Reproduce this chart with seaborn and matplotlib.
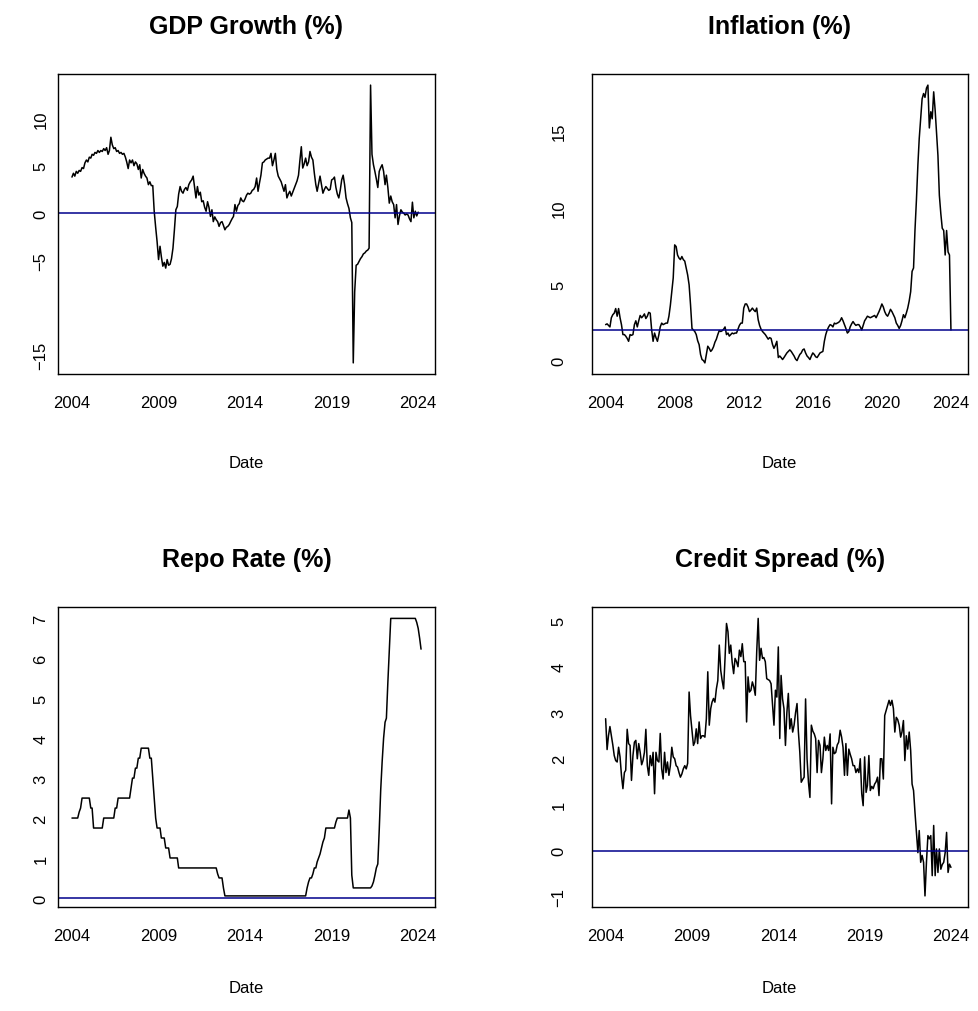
import matplotlib
matplotlib.use("Agg")
import matplotlib.pyplot as plt
import matplotlib.dates as mdates
import numpy as np
import pandas as pd
import seaborn as sns

# Monthly observations, January 2004 onwards
months = pd.date_range("2004-01-01", "2024-03-01", freq="MS")

gdp_growth = [
    3.8, 4.2, 3.9, 4.4, 4.2, 4.5, 4.4, 4.8, 4.7, 5.3, 5.6, 5.4,
    5.9, 5.8, 6.2, 6.1, 6.4, 6.3, 6.6, 6.4, 6.6, 6.5, 6.8, 6.6,
    6.9, 6.2, 6.6, 8.0, 7.2, 6.8, 6.9, 6.5, 6.6, 6.3, 6.4, 6.2,
    6.3, 5.9, 5.4, 4.7, 5.6, 5.3, 5.6, 5.0, 5.4, 5.2, 4.6, 5.1,
    3.7, 4.6, 4.2, 3.9, 3.7, 3.0, 3.3, 2.9, 2.9, 0.2, -1.5, -3.0,
    -4.9, -3.5, -4.6, -5.6, -5.2, -5.8, -4.9, -5.5, -5.4, -4.8, -3.7, -1.8,
    0.35, 0.7, 2.0, 2.8, 2.3, 2.1, 2.5, 2.7, 2.4, 3.0, 3.3, 3.5,
    3.9, 2.7, 1.6, 2.8, 1.9, 2.2, 1.2, 1.3, 0.6, 0.2, 1.2, 0.6,
    -0.35, 0.35, -0.9, -0.4, -0.7, -0.9, -1.4, -1.0, -0.9, -1.3, -1.76, -1.5,
    -1.4, -1.2, -0.9, -0.6, -0.35, 0.9, 0.2, 0.8, 1.0, 1.6, 1.3, 1.2,
    1.5, 1.9, 2.1, 2.0, 2.1, 2.4, 2.5, 2.8, 3.7, 2.3, 3.2, 4.0,
    5.3, 5.4, 5.6, 5.7, 5.8, 5.8, 6.3, 5.0, 5.6, 6.3, 4.6, 3.9,
    3.6, 3.3, 2.8, 2.3, 3.0, 1.6, 2.0, 2.3, 1.8, 2.2, 2.6, 3.0,
    3.4, 4.0, 5.5, 7.0, 4.75, 5.2, 5.8, 5.0, 5.4, 6.5, 5.9, 5.6,
    4.2, 3.0, 2.3, 3.1, 3.9, 3.0, 2.1, 2.5, 2.8, 2.6, 2.4, 2.5,
    3.5, 3.6, 3.8, 2.7, 2.0, 1.6, 2.4, 3.5, 4.0, 3.0, 1.6, 1.0,
    0.5, -0.5, -1.0, -15.8, -8.3, -5.5, -5.4, -5.1, -4.8, -4.6, -4.3, -4.2,
    -4.0, -3.9, -3.7, 13.5, 6.2, 5.1, 4.4, 3.6, 2.7, 4.4, 4.8, 5.1,
    4.4, 3.0, 4.0, 2.7, 1.05, 1.8, 1.2, 0.9, -0.5, 0.9, -1.2, -0.3,
    0.35, 0.1, 0.0, -0.2, -0.1, -0.2, -0.6, -0.9, 1.15, -0.5, 0.2, -0.3,
    0.1,
]

inflation = [
    2.35, 2.4, 2.3, 2.2, 2.8, 3.0, 3.1, 3.4, 2.9, 3.4, 2.8, 2.35,
    1.7, 1.7, 1.6, 1.45, 1.26, 1.7, 1.65, 1.7, 2.35, 2.6, 2.2, 2.6,
    2.95, 2.8, 2.9, 3.05, 2.75, 2.9, 3.15, 3.1, 2.0, 1.26, 1.8, 1.5,
    1.26, 1.7, 2.2, 2.45, 2.35, 2.4, 2.45, 2.45, 2.9, 3.6, 4.5, 5.4,
    7.56, 7.45, 6.9, 6.7, 6.6, 6.8, 6.6, 6.5, 6.05, 5.6, 4.95, 3.65,
    2.1, 2.0, 1.9, 1.7, 1.3, 1.04, 0.4, 0.07, 0.0, -0.15, 0.4, 0.94,
    0.8, 0.6, 0.7, 0.9, 1.2, 1.4, 1.7, 1.96, 1.9, 1.95, 2.05, 2.2,
    1.7, 1.8, 1.6, 1.7, 1.8, 1.75, 1.8, 1.8, 2.05, 2.3, 2.45, 2.45,
    3.43, 3.7, 3.7, 3.5, 3.2, 3.3, 3.43, 3.3, 3.2, 3.43, 2.67, 2.3,
    2.05, 1.9, 1.8, 1.7, 1.55, 1.4, 1.5, 1.45, 1.05, 0.8, 1.0, 1.26,
    0.2, 0.3, 0.2, 0.07, 0.2, 0.35, 0.5, 0.6, 0.7, 0.6, 0.45, 0.3,
    0.1, 0.0, 0.2, 0.4, 0.5, 0.7, 0.76, 0.5, 0.3, 0.2, 0.07, 0.3,
    0.5, 0.4, 0.25, 0.2, 0.35, 0.5, 0.55, 0.6, 1.26, 1.7, 2.0, 2.2,
    2.35, 2.3, 2.2, 2.45, 2.4, 2.45, 2.5, 2.6, 2.8, 2.6, 2.35, 2.1,
    1.8, 1.9, 2.2, 2.4, 2.55, 2.4, 2.3, 2.35, 2.35, 2.2, 2.0, 2.3,
    2.6, 2.75, 2.9, 2.85, 2.8, 2.85, 2.9, 2.95, 2.8, 3.0, 3.2, 3.43,
    3.7, 3.5, 3.2, 3.0, 2.9, 3.1, 3.35, 3.2, 3.0, 2.8, 2.45, 2.3,
    2.1, 2.3, 2.6, 3.0, 2.8, 3.1, 3.43, 3.9, 4.5, 5.83, 6.05, 8.5,
    10.5, 12.8, 14.5, 15.8, 17.1, 17.45, 17.2, 17.8, 18.0, 15.2, 16.26, 15.8,
    17.56, 16.36, 15.0, 13.4, 10.8, 9.6, 8.65, 8.5, 6.9, 8.5, 7.1, 6.9,
    2.0,
]

repo_rate = [
    2.0, 2.0, 2.0, 2.0, 2.0, 2.15, 2.25, 2.5, 2.5, 2.5, 2.5, 2.5,
    2.5, 2.25, 2.25, 1.75, 1.75, 1.75, 1.75, 1.75, 1.75, 1.75, 2.0, 2.0,
    2.0, 2.0, 2.0, 2.0, 2.0, 2.0, 2.25, 2.25, 2.5, 2.5, 2.5, 2.5,
    2.5, 2.5, 2.5, 2.5, 2.5, 2.75, 3.0, 3.0, 3.25, 3.25, 3.5, 3.5,
    3.75, 3.75, 3.75, 3.75, 3.75, 3.75, 3.5, 3.5, 3.0, 2.5, 2.0, 1.75,
    1.75, 1.75, 1.5, 1.5, 1.5, 1.25, 1.25, 1.25, 1.0, 1.0, 1.0, 1.0,
    1.0, 1.0, 0.75, 0.75, 0.75, 0.75, 0.75, 0.75, 0.75, 0.75, 0.75, 0.75,
    0.75, 0.75, 0.75, 0.75, 0.75, 0.75, 0.75, 0.75, 0.75, 0.75, 0.75, 0.75,
    0.75, 0.75, 0.75, 0.75, 0.75, 0.6, 0.5, 0.5, 0.5, 0.25, 0.05, 0.05,
    0.05, 0.05, 0.05, 0.05, 0.05, 0.05, 0.05, 0.05, 0.05, 0.05, 0.05, 0.05,
    0.05, 0.05, 0.05, 0.05, 0.05, 0.05, 0.05, 0.05, 0.05, 0.05, 0.05, 0.05,
    0.05, 0.05, 0.05, 0.05, 0.05, 0.05, 0.05, 0.05, 0.05, 0.05, 0.05, 0.05,
    0.05, 0.05, 0.05, 0.05, 0.05, 0.05, 0.05, 0.05, 0.05, 0.05, 0.05, 0.05,
    0.05, 0.05, 0.05, 0.05, 0.05, 0.05, 0.05, 0.25, 0.4, 0.5, 0.5, 0.6,
    0.75, 0.75, 0.9, 1.0, 1.1, 1.25, 1.4, 1.5, 1.75, 1.75, 1.75, 1.75,
    1.75, 1.75, 1.75, 1.9, 2.0, 2.0, 2.0, 2.0, 2.0, 2.0, 2.0, 2.0,
    2.2, 2.0, 0.57, 0.25, 0.25, 0.25, 0.25, 0.25, 0.25, 0.25, 0.25, 0.25,
    0.25, 0.25, 0.25, 0.25, 0.3, 0.4, 0.56, 0.75, 0.85, 1.7, 2.7, 3.4,
    4.0, 4.4, 4.5, 5.4, 6.2, 7.0, 7.0, 7.0, 7.0, 7.0, 7.0, 7.0,
    7.0, 7.0, 7.0, 7.0, 7.0, 7.0, 7.0, 7.0, 7.0, 7.0, 7.0, 6.9,
    6.75, 6.5, 6.23,
]

credit_spread = [
    2.87, 2.2, 2.5, 2.7, 2.5, 2.3, 2.07, 1.96, 1.93, 2.25, 2.04, 1.64,
    1.35, 1.7, 1.75, 2.64, 2.33, 2.29, 1.53, 2.07, 2.36, 2.4, 2.0, 2.33,
    2.14, 1.87, 1.96, 2.14, 2.64, 1.85, 1.64, 2.07, 1.85, 2.14, 1.24, 2.14,
    1.96, 1.93, 2.55, 1.78, 1.56, 2.14, 1.7, 1.93, 1.64, 1.85, 2.25, 2.04,
    2.0, 1.85, 1.82, 1.7, 1.6, 1.67, 1.78, 1.85, 1.78, 1.9, 3.45, 2.94,
    2.62, 2.29, 2.36, 2.65, 2.33, 2.8, 2.44, 2.5, 2.5, 2.47, 2.87, 3.89,
    2.73, 3.09, 3.23, 3.31, 3.23, 3.52, 3.7, 4.47, 3.92, 3.7, 3.52, 4.18,
    4.94, 4.76, 4.29, 4.47, 4.1, 3.85, 4.18, 4.11, 4.0, 4.36, 4.22, 4.5,
    4.11, 4.11, 2.8, 3.78, 3.45, 3.49, 3.67, 3.56, 3.38, 4.32, 5.05, 4.14,
    4.4, 4.18, 4.2, 4.11, 3.74, 3.72, 3.7, 3.63, 3.16, 2.73, 3.49, 3.34,
    4.43, 2.44, 3.81, 3.3, 3.09, 2.29, 3.0, 3.42, 2.65, 2.87, 2.58, 2.73,
    3.0, 3.2, 2.6, 2.14, 1.49, 1.55, 1.6, 3.3, 2.0, 1.49, 1.16, 2.73,
    2.6, 2.54, 2.44, 1.7, 2.4, 2.29, 1.7, 2.0, 2.47, 2.18, 2.29, 2.18,
    2.54, 1.02, 2.25, 2.11, 2.14, 2.3, 2.36, 2.62, 2.47, 2.25, 1.64, 2.33,
    1.64, 2.21, 2.1, 2.0, 1.85, 1.85, 1.7, 1.78, 1.7, 2.0, 1.24, 0.98,
    2.04, 1.27, 1.42, 2.07, 1.31, 1.4, 1.35, 1.45, 1.5, 1.6, 1.2, 2.0,
    2.0, 1.56, 2.94, 3.05, 3.15, 3.27, 3.16, 3.27, 3.09, 2.58, 2.9, 2.85,
    2.73, 2.47, 2.58, 2.83, 1.96, 2.5, 2.21, 2.58, 2.18, 1.45, 1.31, 0.84,
    0.4, -0.04, 0.44, -0.25, -0.1, -0.25, -0.98, -0.25, 0.33, 0.26, 0.33, -0.54,
    0.55, -0.54, 0.04, -0.47, 0.04, -0.4, -0.3, -0.25, -0.04, 0.4, -0.47, -0.29,
    -0.36,
]

panel_titles = ["GDP Growth (%)", "Inflation (%)", "Repo Rate (%)", "Credit Spread (%)"]
reference_levels = [0, 2, 0, 0]
y_ticks = [
    [-15, -10, -5, 0, 5, 10],
    [0, 5, 10, 15],
    [0, 1, 2, 3, 4, 5, 6, 7],
    [-1, 0, 1, 2, 3, 4, 5],
]
y_tick_labels = [
    ["\u221215", "", "\u22125", "0", "5", "10"],
    ["0", "5", "10", "15"],
    ["0", "1", "2", "3", "4", "5", "6", "7"],
    ["\u22121", "0", "1", "2", "3", "4", "5"],
]
x_tick_years = [
    [2004, 2009, 2014, 2019, 2024],
    [2004, 2006, 2008, 2010, 2012, 2014, 2016, 2018, 2020, 2022, 2024],
    [2004, 2009, 2014, 2019, 2024],
    [2004, 2009, 2014, 2019, 2024],
]
x_label_years = [
    [2004, 2009, 2014, 2019, 2024],
    [2004, 2008, 2012, 2016, 2020, 2024],
    [2004, 2009, 2014, 2019, 2024],
    [2004, 2009, 2014, 2019, 2024],
]
series = [gdp_growth, inflation, repo_rate, credit_spread]

sns.set_theme(style="white")
plt.rcParams["font.family"] = ["Liberation Sans", "DejaVu Sans"]
plt.rcParams["axes.unicode_minus"] = True

W, H = 979, 1012
fig = plt.figure(figsize=(W / 100, H / 100), dpi=100)
fig.patch.set_facecolor("white")

# plot boxes in pixels: left, top, right, bottom
boxes = [
    (58, 75, 435, 375),
    (591.7, 75, 967.7, 375),
    (58, 608.3, 435, 908),
    (591.7, 608.3, 967.7, 908),
]
title_y = [27, 27, 560, 560]
xlabel_y = [463, 463, 989, 989]
ylabel_pad = [2, 13, 2, 13]

x0 = mdates.date2num(months[0])
x1 = mdates.date2num(months[-1])
xpad = 0.04 * (x1 - x0)

for i in range(4):
    l, t, r, b = boxes[i]
    ax = fig.add_axes([l / W, 1 - b / H, (r - l) / W, (b - t) / H])
    vals = series[i]
    df = pd.DataFrame({"date": months[: len(vals)], "value": vals})
    sns.lineplot(data=df, x="date", y="value", ax=ax, color="black",
                 linewidth=1.1, estimator=None)
    ax.axhline(reference_levels[i], color="#00008B", linewidth=1.1)

    lo, hi = min(vals), max(vals)
    ypad = 0.04 * (hi - lo)
    ax.set_ylim(lo - ypad, hi + ypad)
    ax.set_xlim(x0 - xpad, x1 + xpad)

    ax.set_yticks(y_ticks[i])
    ax.set_yticklabels(y_tick_labels[i], rotation=90, va="center")
    xt = [pd.Timestamp(f"{y}-01-01") for y in x_tick_years[i]]
    ax.set_xticks(mdates.date2num(xt))
    ax.set_xticklabels([str(y) if y in x_label_years[i] else "" for y in x_tick_years[i]])

    ax.tick_params(direction="out", length=5, width=0.9, color="black",
                   labelsize=12, labelcolor="black")
    ax.tick_params(axis="x", pad=10)
    ax.tick_params(axis="y", pad=ylabel_pad[i])
    for sp in ax.spines.values():
        sp.set_visible(True)
        sp.set_color("black")
        sp.set_linewidth(1.0)
    ax.set_xlabel("")
    ax.set_ylabel("")
    ax.grid(False)

    cx = (l + r) / 2 / W
    fig.text(cx, 1 - title_y[i] / H, panel_titles[i], ha="center", va="center",
             fontsize=18, fontweight="bold", color="black")
    fig.text(cx, 1 - xlabel_y[i] / H, "Date", ha="center", va="center",
             fontsize=12, color="black")

fig.savefig("out.png", dpi=100, facecolor="white")
